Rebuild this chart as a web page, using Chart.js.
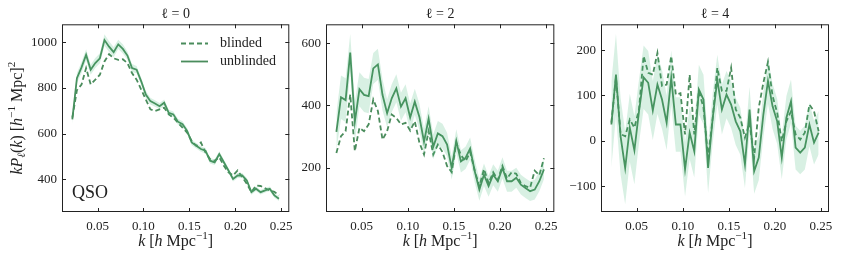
<!DOCTYPE html>
<html>
<head>
<meta charset="utf-8">
<script src="https://cdn.jsdelivr.net/npm/chart.js@4.4.0/dist/chart.umd.min.js"></script>
<style>
  body { margin: 0; background: #fff; }
  #wrap { position: relative; width: 842px; height: 260px; }
  canvas { position: absolute; top: 0; }
</style>
</head>
<body>
<div id="wrap">
  <canvas id="c0" width="300" height="260" style="left:0px"></canvas>
  <canvas id="c2" width="265" height="260" style="left:300px"></canvas>
  <canvas id="c4" width="277" height="260" style="left:565px"></canvas>
</div>
<script>
// k bin centres
const kValues = [0.0225,0.0275,0.0325,0.0375,0.0425,0.0475,0.0525,0.0575,0.0625,0.0675,
  0.0725,0.0775,0.0825,0.0875,0.0925,0.0975,0.1025,0.1075,0.1125,0.1175,
  0.1225,0.1275,0.1325,0.1375,0.1425,0.1475,0.1525,0.1575,0.1625,0.1675,
  0.1725,0.1775,0.1825,0.1875,0.1925,0.1975,0.2025,0.2075,0.2125,0.2175,
  0.2225,0.2275,0.2325,0.2375,0.2425,0.2475];
const kTicks = [0.05, 0.10, 0.15, 0.20, 0.25];

// l = 0
const mono_unblinded = [662,843,890,945,880,909,930,1010,981,957,991,971,942,887,880,829,771,742,732,720,
  735,691,684,652,641,612,561,546,532,525,481,474,510,474,438,401,416,416,394,343,358,343,351,358,329,314];
const mono_blinded = [670,790,815,887,815,836,858,916,948,930,923,926,909,865,836,793,749,706,699,706,
  713,684,670,648,626,604,568,546,561,517,488,481,496,459,430,416,438,409,380,343,372,370,360,350,345,329];
const mono_err = [20,22,24,25,22,22,22,25,24,22,20,20,18,18,16,16,15,15,14,14,14,13,13,13,13,12,12,12,12,12,
  12,12,12,11,11,11,11,11,11,11,10,10,10,10,10,10];
const mono_ticks = [400, 600, 800, 1000];

// l = 2
const quad_unblinded = [315,426,417,570,347,452,434,430,519,532,434,375,423,455,396,423,361,412,363,283,
  357,267,310,301,274,199,285,220,231,261,188,129,177,140,177,156,199,156,156,167,145,134,124,129,156,194];
const quad_blinded = [247,301,317,435,253,328,317,339,419,382,290,317,371,360,339,344,319,349,280,242,
  317,242,274,250,205,185,280,240,220,250,190,140,195,150,185,160,205,165,185,180,150,140,135,190,175,230];
const quad_err = [60,70,70,60,65,55,55,55,50,50,50,45,45,45,45,45,45,42,42,42,40,40,40,40,38,38,38,36,36,36,
  36,36,36,34,34,34,34,34,34,32,32,32,32,32,32,32];
const quad_ticks = [200, 400, 600];

// l = 4
const hexa_unblinded = [36,146,10,-60,29,-21,65,140,128,67,124,91,40,139,36,36,-63,18,-23,113,
  91,-60,50,135,69,102,80,43,21,-52,69,-67,-37,58,132,76,43,-37,51,87,-15,-26,-15,36,-4,18];
const hexa_blinded = [40,140,15,10,47,29,69,187,150,146,194,121,124,187,102,105,14,146,14,110,
  73,-37,50,161,110,110,161,69,51,7,40,-37,73,128,174,99,62,-1,43,65,14,3,18,80,65,21];
const hexa_err = [95,90,85,80,75,75,70,70,70,65,65,65,60,60,60,60,60,58,58,55,55,55,55,55,55,52,52,52,52,52,
  50,50,50,50,50,50,50,48,48,48,48,48,48,48,48,48];
const hexa_ticks = [-100, 0, 100, 200];

const FONT = "'Liberation Serif', 'DejaVu Serif', serif";
const LINE = "#4a8c5c";
const BAND = "rgba(60,179,113,0.2)";
const INK = "#222";

// draw a string made of plain / italic / sup / sub pieces, centred at (cx, cy)
function drawRich(ctx, parts, cx, cy, size, rotate) {
  const fontOf = p => `${p.it ? "italic " : ""}${(p.sup || p.sub) ? size * 0.7 : size}px ${FONT}`;
  let total = 0;
  parts.forEach(p => { ctx.font = fontOf(p); p.w = ctx.measureText(p.t).width; total += p.w; });
  ctx.save();
  ctx.translate(cx, cy);
  if (rotate) ctx.rotate(-Math.PI / 2);
  ctx.fillStyle = INK;
  ctx.textBaseline = "middle";
  ctx.textAlign = "left";
  let x = -total / 2;
  parts.forEach(p => {
    ctx.font = fontOf(p);
    const dy = p.sup ? -size * 0.38 : p.sub ? size * 0.25 : 0;
    ctx.fillText(p.t, x, dy);
    x += p.w;
  });
  ctx.restore();
}

const xLabel = [{t:"k", it:1},{t:" ["},{t:"h", it:1},{t:" Mpc"},{t:"\u22121", sup:1},{t:"]"}];
const yLabel = [{t:"k", it:1},{t:"P", it:1},{t:"\u2113", sub:1, it:1},{t:"("},{t:"k", it:1},{t:") ["},
  {t:"h", it:1},{t:"\u22121", sup:1},{t:" Mpc]"},{t:"2", sup:1}];

// frame, inward ticks on all sides, axis labels, legend, tag
const decoPlugin = {
  id: "deco",
  afterDraw(chart, args, opts) {
    const ctx = chart.ctx;
    const a = chart.chartArea;
    const xs = chart.scales.x, ys = chart.scales.y;
    ctx.save();
    ctx.strokeStyle = INK;
    ctx.lineWidth = 1;
    ctx.strokeRect(a.left + 0.5, a.top + 0.5, a.right - a.left - 1, a.bottom - a.top - 1);
    ctx.beginPath();
    xs.ticks.forEach(t => {
      const px = Math.round(xs.getPixelForValue(t.value)) + 0.5;
      ctx.moveTo(px, a.bottom); ctx.lineTo(px, a.bottom - 4);
      ctx.moveTo(px, a.top); ctx.lineTo(px, a.top + 4);
    });
    ys.ticks.forEach(t => {
      const py = Math.round(ys.getPixelForValue(t.value)) + 0.5;
      ctx.moveTo(a.left, py); ctx.lineTo(a.left + 4, py);
      ctx.moveTo(a.right, py); ctx.lineTo(a.right - 4, py);
    });
    ctx.stroke();
    ctx.restore();

    drawRich(ctx, xLabel, (a.left + a.right) / 2, 242, 16, false);

    if (opts.first) {
      drawRich(ctx, yLabel, 18, (a.top + a.bottom) / 2, 16, true);

      ctx.save();
      ctx.fillStyle = INK;
      ctx.font = `18px ${FONT}`;
      ctx.textBaseline = "middle";
      ctx.fillText("QSO", 72, 193);

      ctx.strokeStyle = LINE;
      ctx.lineWidth = 1.8;
      ctx.setLineDash([5, 3]);
      ctx.beginPath(); ctx.moveTo(181, 43.5); ctx.lineTo(208, 43.5); ctx.stroke();
      ctx.setLineDash([]);
      ctx.beginPath(); ctx.moveTo(181, 61.5); ctx.lineTo(208, 61.5); ctx.stroke();
      ctx.font = `14px ${FONT}`;
      ctx.fillText("blinded", 220, 43);
      ctx.fillText("unblinded", 220, 61);
      ctx.restore();
    }
  }
};

function makePanel(id, ell, blinded, unblinded, err, yTicks, yMin, yMax, plotLeft, rightPad, first) {
  const lo = unblinded.map((v, i) => ({ x: kValues[i], y: v - err[i] }));
  const hi = unblinded.map((v, i) => ({ x: kValues[i], y: v + err[i] }));
  const pts = arr => arr.map((v, i) => ({ x: kValues[i], y: v }));

  return new Chart(document.getElementById(id), {
    type: "line",
    data: {
      datasets: [
        { data: lo, borderWidth: 0, pointRadius: 0, fill: false },
        { data: hi, borderWidth: 0, pointRadius: 0, fill: "-1", backgroundColor: BAND },
        { label: "blinded", data: pts(blinded), borderColor: LINE, borderWidth: 1.8, borderDash: [5, 3], pointRadius: 0, fill: false },
        { label: "unblinded", data: pts(unblinded), borderColor: LINE, borderWidth: 1.8, pointRadius: 0, fill: false }
      ]
    },
    options: {
      responsive: false,
      animation: false,
      layout: { padding: { left: 0, right: rightPad, top: 0, bottom: 0 } },
      plugins: {
        legend: { display: false },
        tooltip: { enabled: false },
        title: {
          display: true,
          text: `\u2113 = ${ell}`,
          fullSize: false,
          color: INK,
          font: { family: FONT, size: 14, weight: "normal", style: "normal" },
          padding: { top: 5.5, bottom: 2 }
        },
        deco: { first }
      },
      scales: {
        x: {
          type: "linear",
          min: 0.01125,
          max: 0.25875,
          grid: { display: false, drawTicks: false },
          border: { display: false },
          afterBuildTicks: s => { s.ticks = kTicks.map(v => ({ value: v })); },
          ticks: {
            maxRotation: 0,
            autoSkip: false,
            padding: 7,
            color: INK,
            font: { family: FONT, size: 13 },
            callback: v => v.toFixed(2)
          },
          afterFit: s => { s.height = 48; }
        },
        y: {
          min: yMin,
          max: yMax,
          grid: { display: false, drawTicks: false },
          border: { display: false },
          afterBuildTicks: s => { s.ticks = yTicks.map(v => ({ value: v })); },
          ticks: {
            autoSkip: false,
            padding: 5,
            color: INK,
            font: { family: FONT, size: 13 },
            callback: v => v < 0 ? "\u2212" + Math.abs(v) : String(v)
          },
          afterFit: s => { s.width = plotLeft; }
        }
      }
    },
    plugins: [decoPlugin]
  });
}

makePanel("c0", 0, mono_blinded, mono_unblinded, mono_err, mono_ticks, 256, 1079, 62, 10, true);
makePanel("c2", 2, quad_blinded, quad_unblinded, quad_err, quad_ticks, 57, 661, 26, 8, false);
makePanel("c4", 4, hexa_blinded, hexa_unblinded, hexa_err, hexa_ticks, -157, 257, 36, 13, false);
</script>
</body>
</html>
